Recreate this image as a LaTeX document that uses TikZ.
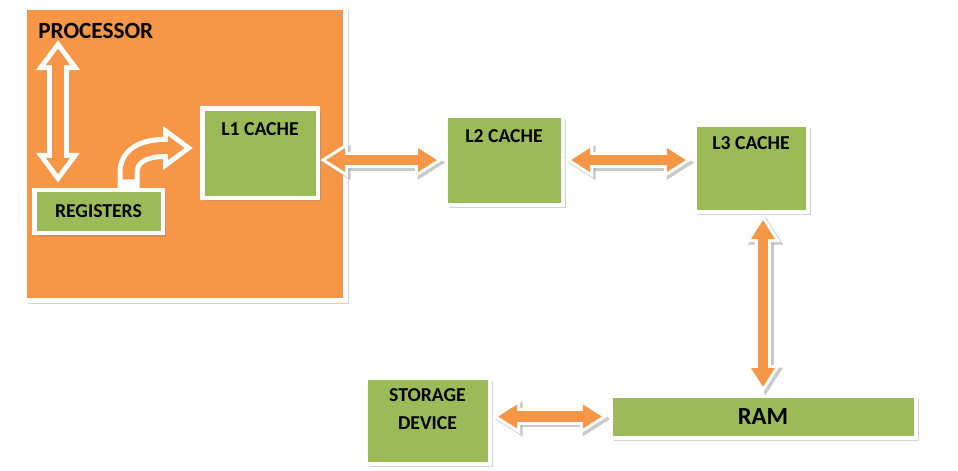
\documentclass[tikz,border=0pt]{standalone}
\usepackage{fontspec}
\setmainfont{Carlito}
\usetikzlibrary{arrows.meta,calc,shadows}
\definecolor{cpuorange}{HTML}{F79646}
\definecolor{boxgreen}{HTML}{9BBB59}
\begin{document}
\begin{tikzpicture}[font=\bfseries\fontsize{11.2}{13}\selectfont,
box/.style={draw=white,line width=0.09cm,fill=boxgreen,inner sep=0pt,drop shadow={shadow xshift=0.07cm,shadow yshift=-0.07cm,opacity=0.35}},
boxtext/.style={anchor=center,yshift=-0.47cm},
link/.style={draw=cpuorange,line width=0.21cm,shorten <=0.12cm,shorten >=0.12cm,{Triangle[length=0.38cm,width=0.45cm]}-{Triangle[length=0.38cm,width=0.45cm]},
  preaction={draw=black!35,opacity=0.6,line width=0.33cm,shorten <=0pt,shorten >=0pt,transform canvas={xshift=0.05cm,yshift=-0.05cm},{Triangle[length=0.56cm,width=0.66cm]}-{Triangle[length=0.56cm,width=0.66cm]}},
  preaction={draw=white,line width=0.33cm,shorten <=0pt,shorten >=0pt,{Triangle[length=0.56cm,width=0.66cm]}-{Triangle[length=0.56cm,width=0.66cm]}}},
hollow/.style={draw=cpuorange,line width=0.24cm,shorten <=0.17cm,shorten >=0.17cm,>={Triangle[length=0.33cm,width=0.46cm]},#1,preaction={draw=white,line width=0.44cm,shorten <=0pt,shorten >=0pt,>={Triangle[length=0.6cm,width=0.84cm]},#1}}]
\useasboundingbox (0,0) rectangle (19.16,-9.4);
\node[box,fill=cpuorange,minimum width=6.42cm,minimum height=5.86cm] (cpu) at (3.70,-3.08) {};
\node[anchor=west,inner sep=0pt,font=\bfseries\fontsize{13.2}{15}\selectfont] (cpuname) at (0.76,-0.62) {PROCESSOR};
\node[box,minimum width=2.57cm,minimum height=0.86cm] (regs) at (1.97,-4.23) {REGISTERS};
\node[box,minimum width=2.31cm,minimum height=1.79cm,label={[boxtext]north:L1 CACHE}] (l1) at (5.2,-3.06) {};
\node[box,minimum width=2.35cm,minimum height=1.79cm,label={[boxtext]north:L2 CACHE}] (l2) at (10.08,-3.2) {};
\node[box,minimum width=2.27cm,minimum height=1.75cm,label={[boxtext,yshift=0.04cm]north:L3 CACHE}] (l3) at (15.02,-3.36) {};
\node[box,minimum width=6.11cm,minimum height=0.85cm,font=\bfseries\fontsize{14}{16}\selectfont] (ram) at (15.26,-8.33) {RAM};
\node[box,minimum width=2.49cm,minimum height=1.73cm,label={[boxtext,yshift=-0.22cm,align=center]north:STORAGE\\[3pt]DEVICE}] (store) at (8.55,-8.41) {};
\coordinate (bustop) at (1.16,-0.8);
\draw[hollow={<->}] (bustop) -- ($(bustop |- regs.north)+(0,0.1)$);
\draw[hollow={->}] ([xshift=0.6cm]regs.north) -- ++(0,0.3) to[out=90,in=180] ([xshift=-0.14cm,yshift=0.1cm]l1.west);
\draw[link] (l1.east |- l2.west) -- (l2.west); \draw[link] (l2.east) -- (l2.east -| l3.west);
\draw[link] (ram.north |- l3.south) -- (ram.north); \draw[link] (store.east |- ram.west) -- (ram.west);
\end{tikzpicture}
\end{document}
